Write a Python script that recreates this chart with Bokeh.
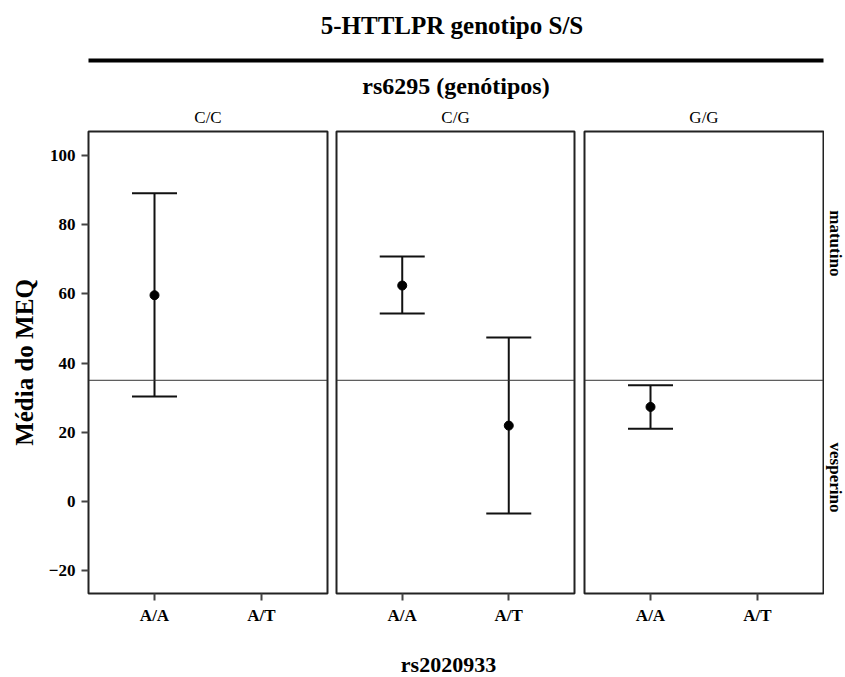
from bokeh.plotting import figure
from bokeh.models import (FactorRange, Range1d, ColumnDataSource, Whisker, TeeHead,
                          Span, FixedTicker)
from bokeh.layouts import column, row
from bokeh.core.properties import value
from bokeh.embed import file_html
from bokeh.resources import INLINE

# ---------------- data ----------------
main_title = "5-HTTLPR genotipo S/S"
panel_title = "rs6295 (genótipos)"
x_title = "rs2020933"
y_title = "Média do MEQ"
panels = ["C/C", "C/G", "G/G"]
groups = ["A/A", "A/T"]
pt_panel = ["C/C", "C/G", "C/G", "G/G"]
pt_group = ["A/A", "A/A", "A/T", "A/A"]
means = [59.6, 62.4, 21.9, 27.3]
upper = [89.1, 70.8, 47.4, 33.6]
lower = [30.3, 54.3, -3.5, 21.0]
y_ticks = [-20, 0, 20, 40, 60, 80, 100]
cutoff = 35
side_labels = ["matutino", "vesperino"]
side_label_y = [74.6, 6.9]

FONT = value("Liberation Serif")
FONT_NAME = "Liberation Serif"

# ---------------- layout constants ----------------
W = 845
TOP_H = 127
FRAME_H = 462
BORDER_TOP = 4
BORDER_BOTTOM = 45
frame_w = [239, 238, 239]
border_l = [88, 4, 5]
border_r = [5, 5, 1]
SIDE_W = W - sum(frame_w) - sum(border_l) - sum(border_r)
PANEL_H = BORDER_TOP + FRAME_H + BORDER_BOTTOM
BOT_H = 677 - TOP_H - PANEL_H
Y0, Y1 = -26.65, 106.94

frame_left = []
acc = 0
for i in range(3):
    frame_left.append(acc + border_l[i])
    acc += border_l[i] + frame_w[i] + border_r[i]
panel_centers = [frame_left[i] + frame_w[i] / 2 for i in range(3)]
left_edge = frame_left[0]
right_edge = frame_left[2] + frame_w[2]
mid = (left_edge + right_edge) / 2

# ---------------- header ----------------
top = figure(width=W, height=TOP_H, x_range=Range1d(0, W), y_range=Range1d(TOP_H, 0),
             output_backend="svg", toolbar_location=None, min_border=0,
             x_axis_location=None, y_axis_location=None)
top.outline_line_color = None
top.grid.visible = False
top.text(x=[mid - 4], y=[25], text=[main_title], text_font=FONT, text_font_style="bold",
         text_font_size="25px", text_align="center", text_baseline="middle", text_color="black")
top.segment(x0=[left_edge], y0=[60], x1=[right_edge], y1=[60], line_width=4, line_color="black")
top.text(x=[mid], y=[85], text=[panel_title], text_font=FONT, text_font_style="bold",
         text_font_size="24px", text_align="center", text_baseline="middle", text_color="black")
top.text(x=panel_centers, y=[117] * 3, text=panels, text_font=FONT,
         text_font_size="17px", text_align="center", text_baseline="middle", text_color="black")

# ---------------- panels ----------------
figs = []
for i, pan in enumerate(panels):
    p = figure(frame_width=frame_w[i], frame_height=FRAME_H,
               x_range=FactorRange(factors=groups, range_padding=0.117,
                                   range_padding_units="absolute"),
               y_range=Range1d(Y0, Y1),
               output_backend="svg", toolbar_location=None,
               min_border_left=border_l[i], min_border_right=border_r[i],
               min_border_top=BORDER_TOP, min_border_bottom=BORDER_BOTTOM,
               y_axis_location="left" if i == 0 else None)
    p.outline_line_color = "#222222"
    p.outline_line_width = 2
    p.grid.visible = False

    xa = p.xaxis[0]
    xa.axis_line_color = None
    xa.major_tick_out = 7
    xa.major_tick_in = 0
    xa.major_tick_line_color = "#444444"
    xa.major_tick_line_width = 2
    xa.major_label_text_font = FONT_NAME
    xa.major_label_text_font_style = "bold"
    xa.major_label_text_font_size = "17px"
    xa.major_label_text_color = "black"
    xa.major_label_standoff = 5

    if i == 0:
        ya = p.yaxis[0]
        ya.ticker = FixedTicker(ticks=y_ticks)
        ya.axis_line_color = None
        ya.major_tick_out = 7
        ya.major_tick_in = 0
        ya.minor_tick_line_color = None
        ya.major_tick_line_color = "#444444"
        ya.major_tick_line_width = 2
        ya.major_label_text_font = FONT_NAME
        ya.major_label_text_font_style = "bold"
        ya.major_label_text_font_size = "17px"
        ya.major_label_text_color = "black"
        ya.major_label_standoff = 6
        ya.axis_label = y_title
        ya.axis_label_text_font = FONT_NAME
        ya.axis_label_text_font_style = "bold"
        ya.axis_label_text_font_size = "25px"
        ya.axis_label_text_color = "black"
        ya.axis_label_standoff = 8

    p.add_layout(Span(location=cutoff, dimension="width", line_color="#333333", line_width=1))

    idx = [k for k, pp in enumerate(pt_panel) if pp == pan]
    src = ColumnDataSource(dict(
        x=[pt_group[k] for k in idx],
        mean=[means[k] for k in idx],
        upper=[upper[k] for k in idx],
        lower=[lower[k] for k in idx],
    ))
    if idx:
        w = Whisker(source=src, base="x", upper="upper", lower="lower", dimension="height",
                    line_color="#111111", line_width=2,
                    upper_head=TeeHead(size=45, line_color="#111111", line_width=2),
                    lower_head=TeeHead(size=45, line_color="#111111", line_width=2))
        p.add_layout(w)
        p.scatter(x="x", y="mean", source=src, size=9, color="black")
    figs.append(p)

# ---------------- side labels (right of last panel) ----------------
side = figure(frame_width=SIDE_W, frame_height=FRAME_H,
              x_range=Range1d(0, SIDE_W), y_range=Range1d(Y0, Y1),
              output_backend="svg", toolbar_location=None,
              min_border_left=0, min_border_right=0,
              min_border_top=BORDER_TOP, min_border_bottom=BORDER_BOTTOM,
              x_axis_location=None, y_axis_location=None)
side.outline_line_color = None
side.grid.visible = False
side.text(x=[11] * len(side_labels), y=side_label_y, text=side_labels, angle=-1.5707963,
          text_font=FONT, text_font_style="bold", text_font_size="17px",
          text_align="center", text_baseline="middle", text_color="black")
figs.append(side)

# ---------------- footer ----------------
bot = figure(width=W, height=BOT_H, x_range=Range1d(0, W), y_range=Range1d(BOT_H, 0),
             output_backend="svg", toolbar_location=None, min_border=0,
             x_axis_location=None, y_axis_location=None)
bot.outline_line_color = None
bot.grid.visible = False
bot.text(x=[448], y=[26], text=[x_title], text_font=FONT, text_font_style="bold",
         text_font_size="22px", text_align="center", text_baseline="middle",
         text_color="black")

layout = column(top, row(*figs, spacing=0), bot, spacing=0)
open("out.html", "w").write(file_html(layout, INLINE))
